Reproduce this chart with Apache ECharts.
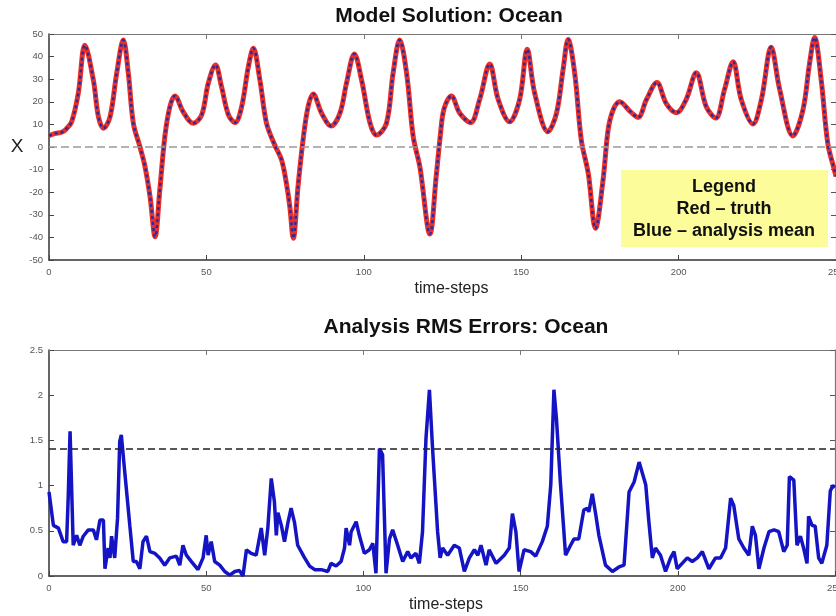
<!DOCTYPE html>
<html>
<head>
<meta charset="utf-8">
<script src="https://cdn.jsdelivr.net/npm/echarts@6/dist/echarts.min.js"></script>
<style>
html,body{margin:0;padding:0;background:#fff;}
#chart{width:836px;height:616px;}
</style>
</head>
<body>
<div id="chart"></div>
<script>
// ---- Data ----
const topTitle = 'Model Solution: Ocean';
const bottomTitle = 'Analysis RMS Errors: Ocean';
const xName = 'time-steps';
const topYName = 'X';
const legendLines = ['Legend', 'Red \u2013 truth', 'Blue \u2013 analysis mean'];

const xTicks = [0, 50, 100, 150, 200, 250];
const topYTicks = [-50, -40, -30, -20, -10, 0, 10, 20, 30, 40, 50];
const bottomYTicks = [0, 0.5, 1, 1.5, 2, 2.5];

const zeroLevel = 0;
const rmsReference = 1.41;

const truthSteps = [0,2,4,5.5,7.2,9.3,11.4,14.1,15.7,17.3,19.4,21.5,23.6,25.2,26.8,28.9,30.5,32.1,33.7,35.2,36.8,38.4,40,42.6,45.8,48.5,50.6,52.9,54.8,57,59.1,61.2,63.3,64.9,67,69.1,71.7,73.9,75.4,76.5,77.6,79.1,80.7,82.3,83.9,86.6,89.6,92.4,94.5,97,99.3,102,104,107.2,109.3,111.4,113.6,115.7,117.8,121,123,124.3,125.5,127.8,130.5,133.9,136.8,140,142.7,146.3,149.5,151.9,154.3,158.5,161.2,163.3,164.9,167,169.1,171.3,173.6,176,177.6,179.2,181.3,184.5,187.1,189.8,193.1,196.1,199.3,202.4,205.6,208.8,211.8,214.6,217.3,219.9,223.6,226.3,229.4,232.1,236.3,239.5,241.6,243.2,245.3,247.4,249.5,250];
const truthValues = [5,6,6.5,8,11.2,23.7,45,29.6,13.4,8.3,13.4,32.6,47.3,32.6,10.5,0,-8.7,-22,-39.7,-19,4.6,17.8,22.6,15.6,10.5,14.2,28.2,36.3,26.7,14.2,10.8,17.8,35.3,43.7,29.6,10.5,0.9,-5.8,-16,-26.4,-40.4,-17.5,3.1,17.8,23.5,14.9,9.3,14.9,28.2,41.2,29.6,10.5,5.3,10.5,32.6,47.3,32.6,4.6,-8.7,-38.5,-13,5,17,22.6,14.9,10.8,21,36.7,21,11.2,21,43.2,23.7,6.8,14.9,34.2,47.6,32.6,3,-11.6,-36,-14.6,7.5,16.4,20,15.9,13.1,21,28.5,19.2,15.2,21,32.9,17.8,12.8,25.5,37.7,21,10.2,21,44.1,25.5,4.9,16.4,37,48.5,29.6,1.5,-10.2,-13];
const meanSteps = truthSteps.slice();
const meanValues = [5,6,6.5,8,11.2,23.7,45,29.6,13.4,8.3,13.4,32.6,47.3,32.6,10.5,0,-8.7,-22,-39.7,-19,4.6,17.8,22.6,15.6,10.5,14.2,28.2,36.3,26.7,14.2,10.8,17.8,35.3,43.7,29.6,10.5,0.9,-5.8,-16,-26.4,-40.4,-17.5,3.1,17.8,23.5,14.9,9.3,14.9,28.2,41.2,29.6,10.5,5.3,10.5,32.6,47.3,32.6,4.6,-8.7,-38.5,-13,5,17,22.6,14.9,10.8,21,36.7,21,11.2,21,43.2,23.7,6.8,14.9,34.2,47.6,32.6,3,-11.6,-36,-14.6,7.5,16.4,20,15.9,13.1,21,28.5,19.2,15.2,21,32.9,17.8,12.8,25.5,37.7,21,10.2,21,44.1,25.5,4.9,16.4,37,48.5,29.6,1.5,-10.2,-13];

const rmsSteps = [0,0.6,1.4,3,4.5,5.6,6.1,6.7,7.2,7.7,8.8,9.8,10.9,12.5,14.1,15.1,16.2,17.3,17.8,18.8,19.4,19.9,20.4,20.9,21.8,22.5,23,24.1,25.7,26.8,27.8,28.9,29.9,31,32.1,33.7,35.2,36.8,38.4,40.5,41.6,42.6,43.7,45.3,47.4,49,50,50.6,51.6,52.7,54.3,55.9,57.5,59.1,60.6,61.7,62.8,64.3,65.9,67.5,68.6,69.6,70.7,71.7,72.3,72.8,73.9,74.9,76,77,78.1,79.1,81.3,82.9,84.5,86.6,88.7,89.7,91.3,92.9,94,94.5,95.6,96.1,97.7,98.7,100.3,101.9,103,104,105.1,106.1,107.2,108.3,109.3,110.9,112.5,114.1,115.1,116.7,117.8,118.8,119.9,121,122,123.6,124.4,125.2,126.8,128.9,130.5,132.1,133.7,135.3,136.4,137.4,139,140,142.2,144.8,146.4,147.4,148.5,149.5,151.1,153.2,154.8,156.9,158.5,159.6,160.6,161.4,162.7,164.3,165.9,167,168.5,170.1,171.2,171.7,172.8,173.9,174.9,177,179.2,181.3,182.9,184.5,186.1,187.7,189.8,190.8,191.9,192.9,194.5,196.1,197.7,198.8,199.8,201.4,203,204.6,206.2,207.8,209.9,212,213.6,215.2,216.8,217.8,219.4,221,222.6,223.7,224.7,225.8,227.4,229,230.6,232.1,233.7,234.8,235.5,236.9,237.9,239,240,241.1,241.6,242.7,243.7,244.8,245.8,247.4,248.5,249.3,250];
const rmsValues = [0.93,0.93,0.56,0.53,0.38,0.38,0.86,1.6,1.6,0.34,0.45,0.34,0.44,0.51,0.51,0.4,0.62,0.62,0.08,0.31,0.2,0.44,0.45,0.2,0.64,1.49,1.56,1.15,0.56,0.16,0.16,0.08,0.38,0.44,0.27,0.25,0.2,0.12,0.2,0.22,0.12,0.34,0.23,0.16,0.07,0.2,0.45,0.23,0.38,0.16,0.12,0.05,0.01,0.05,0.06,0,0.29,0.25,0.23,0.53,0.23,0.53,1.08,0.82,0.45,0.7,0.56,0.38,0.59,0.75,0.59,0.34,0.2,0.11,0.07,0.07,0.05,0.14,0.11,0.16,0.31,0.53,0.34,0.49,0.6,0.45,0.25,0.29,0.36,0.03,1.41,1.34,0.03,0.41,0.51,0.34,0.16,0.27,0.2,0.25,0.14,0.49,1.52,2.06,1.41,0.49,0.2,0.31,0.23,0.34,0.31,0.05,0.2,0.29,0.23,0.34,0.12,0.29,0.14,0.23,0.31,0.69,0.49,0.05,0.29,0.27,0.22,0.38,0.55,1.01,2.06,1.74,1.01,0.23,0.34,0.41,0.41,0.73,0.75,0.71,0.91,0.68,0.45,0.12,0.05,0.1,0.12,0.93,1.04,1.26,1.01,0.6,0.2,0.31,0.23,0.05,0.2,0.27,0.08,0.14,0.2,0.16,0.2,0.27,0.08,0.2,0.2,0.31,0.86,0.78,0.41,0.31,0.23,0.55,0.45,0.08,0.31,0.49,0.51,0.49,0.27,0.34,1.1,1.06,0.34,0.44,0.31,0.14,0.66,0.56,0.55,0.2,0.14,0.34,0.94,1.0,0.98];

// ---- build ----
const pairs = (xs, ys) => xs.map((x, i) => [x, ys[i]]);
const labelStyle = {color: '#555', fontSize: 9.5, fontFamily: 'Liberation Sans'};

function xAxesFor(g, namePadLeft) {
  return [
    {gridIndex: g, type: 'value', min: xTicks[0], max: xTicks[xTicks.length-1], interval: xTicks[1]-xTicks[0],
     position: 'bottom',
     axisLine: {show: true, onZero: false, lineStyle: {color: '#333', width: 1.5}},
     axisTick: {show: true, inside: true, length: 5, lineStyle: {color: '#444'}},
     axisLabel: Object.assign({margin: 7, showMaxLabel: true, hideOverlap: false}, labelStyle),
     splitLine: {show: false},
     name: xName, nameLocation: 'middle', nameGap: 21,
     nameTextStyle: {fontSize: 16, color: '#222', fontFamily: 'Liberation Sans', padding: [0, 0, 0, namePadLeft]}},
    {gridIndex: g, type: 'value', min: xTicks[0], max: xTicks[xTicks.length-1], interval: xTicks[1]-xTicks[0],
     position: 'top',
     axisLine: {show: true, onZero: false, lineStyle: {color: '#777', width: 1.2}},
     axisTick: {show: true, inside: true, length: 5, lineStyle: {color: '#777'}},
     axisLabel: {show: false}, splitLine: {show: false}}
  ];
}
function yAxesFor(g, ticks, name) {
  const base = {gridIndex: g, type: 'value', min: ticks[0], max: ticks[ticks.length-1], interval: ticks[1]-ticks[0]};
  return [
    Object.assign({}, base, {position: 'left',
      axisLine: {show: true, onZero: false, lineStyle: {color: '#333', width: 1.5}},
      axisTick: {show: true, inside: true, length: 5, lineStyle: {color: '#444'}},
      axisLabel: Object.assign({margin: 6}, labelStyle),
      splitLine: {show: false},
      name: name || '', nameLocation: 'middle', nameRotate: 0, nameGap: 21,
      nameTextStyle: {fontSize: 19, color: '#222', fontFamily: 'Liberation Sans'}}),
    Object.assign({}, base, {position: 'right',
      axisLine: {show: true, onZero: false, lineStyle: {color: '#777', width: 1.2}},
      axisTick: {show: true, inside: true, length: 5, lineStyle: {color: '#555'}},
      axisLabel: {show: false}, splitLine: {show: false}})
  ];
}

const chart = echarts.init(document.getElementById('chart'), null, {renderer: 'canvas'});
chart.setOption({
  animation: false,
  backgroundColor: '#fff',
  grid: [
    {left: 49, right: 0, top: 34, height: 226, containLabel: false, outerBoundsMode: 'none'},
    {left: 49, right: 1, top: 350, height: 226, containLabel: false, outerBoundsMode: 'none'}
  ],
  xAxis: xAxesFor(0, 18).concat(xAxesFor(1, 8)),
  yAxis: yAxesFor(0, topYTicks, topYName).concat(yAxesFor(1, bottomYTicks, '')),
  series: [
    {type: 'line', xAxisIndex: 0, yAxisIndex: 0, data: pairs(truthSteps, truthValues),
     smooth: 0.35, symbol: 'none', lineStyle: {color: '#e8302a', width: 5}, z: 3,
     markLine: {silent: true, symbol: 'none', label: {show: false},
       lineStyle: {color: '#9a9a9a', type: [8, 4], width: 1.5},
       data: [{yAxis: zeroLevel}]}},
    {type: 'line', xAxisIndex: 0, yAxisIndex: 0, data: pairs(meanSteps, meanValues),
     smooth: 0.35, symbol: 'none', lineStyle: {color: '#2c2a9c', width: 2.5, type: [3, 3]}, z: 4},
    {type: 'line', xAxisIndex: 2, yAxisIndex: 2, data: pairs(rmsSteps, rmsValues),
     symbol: 'none', lineStyle: {color: '#1414c4', width: 3.5}, z: 3,
     markLine: {silent: true, symbol: 'none', label: {show: false},
       lineStyle: {color: '#222', type: [7, 4], width: 1.5},
       data: [{yAxis: rmsReference}]}}
  ],
  graphic: [
    {type: 'text', x: 449, y: 16, style: {text: topTitle, font: 'bold 21px "Liberation Sans"', fill: '#111', textAlign: 'center', textVerticalAlign: 'middle'}},
    {type: 'rect', shape: {x: 621, y: 170, width: 207, height: 77}, style: {fill: '#fcfc9a'}, z: 10},
    {type: 'text', x: 724, y: 187, style: {text: legendLines[0], font: 'bold 18px "Liberation Sans"', fill: '#111', textAlign: 'center', textVerticalAlign: 'middle'}, z: 11},
    {type: 'text', x: 724, y: 209, style: {text: legendLines[1], font: 'bold 18px "Liberation Sans"', fill: '#111', textAlign: 'center', textVerticalAlign: 'middle'}, z: 11},
    {type: 'text', x: 724, y: 231, style: {text: legendLines[2], font: 'bold 18px "Liberation Sans"', fill: '#111', textAlign: 'center', textVerticalAlign: 'middle'}, z: 11},
    {type: 'text', x: 466, y: 327, style: {text: bottomTitle, font: 'bold 21px "Liberation Sans"', fill: '#111', textAlign: 'center', textVerticalAlign: 'middle'}}
  ]
});
</script>
</body>
</html>
